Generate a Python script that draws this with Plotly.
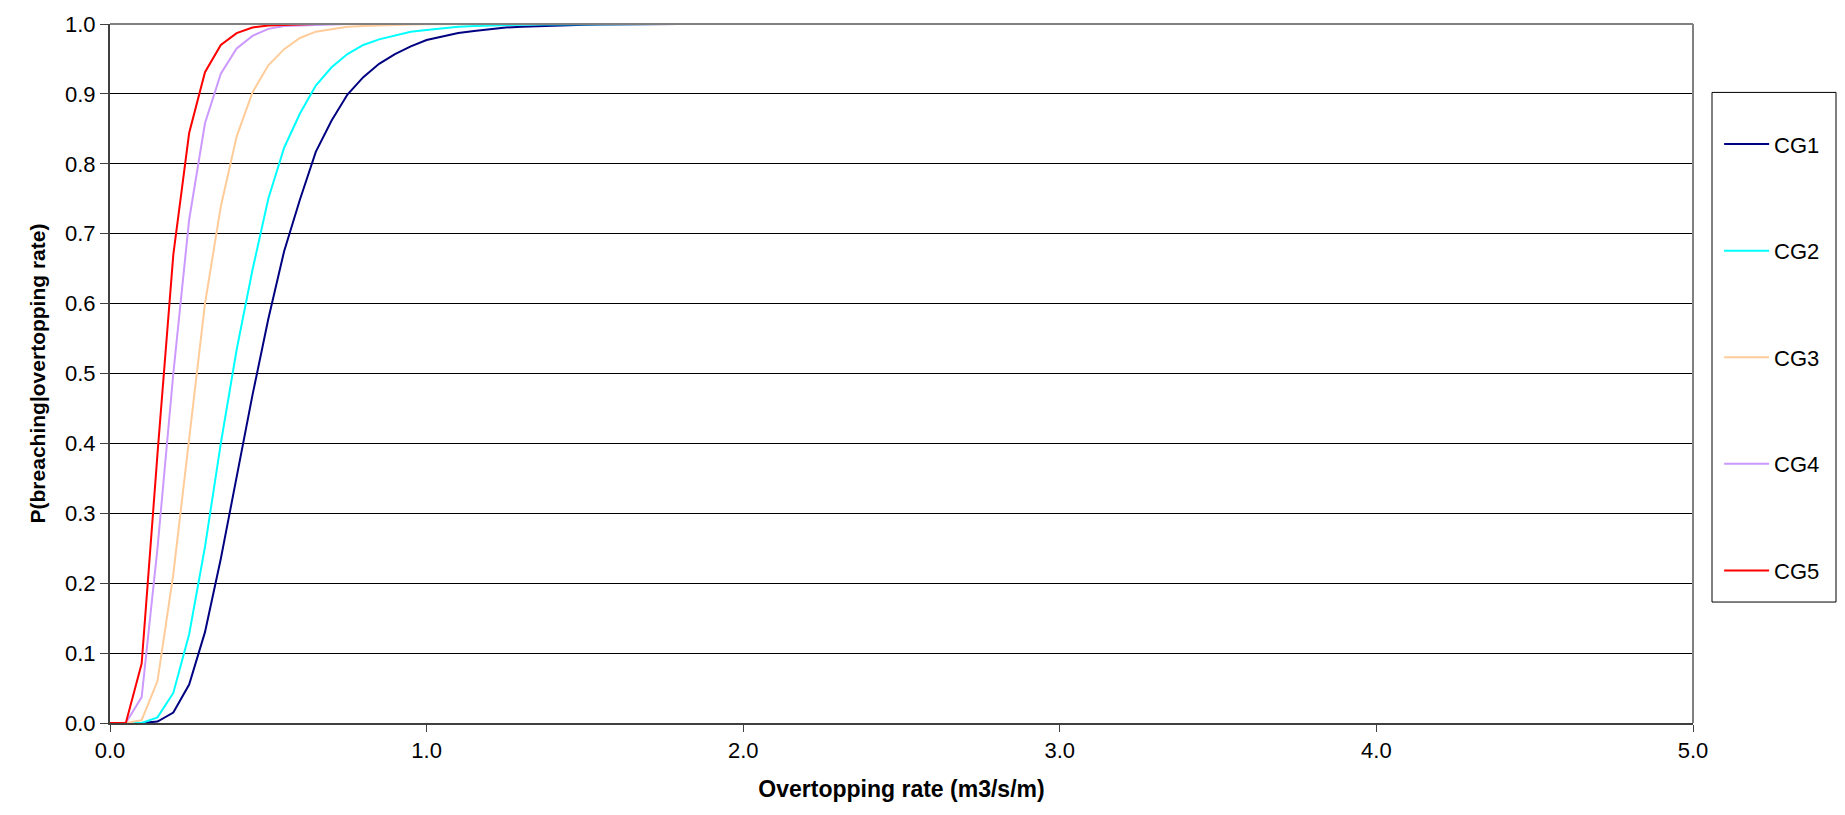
import plotly.graph_objects as go

# Overtopping rate sample points (m3/s/m); curves are flat at 1.0 out to 5.0
OVERTOPPING_RATE = [0.00, 0.05, 0.10, 0.15, 0.20, 0.25, 0.30, 0.35, 0.40, 0.45,
                    0.50, 0.55, 0.60, 0.65, 0.70, 0.75, 0.80, 0.85, 0.90, 0.95,
                    1.00, 1.05, 1.10, 1.15, 1.20, 1.25, 1.30, 1.35, 1.40, 1.45,
                    1.50, 1.55, 1.60, 1.65, 1.70, 1.75, 1.80, 5.00]

# Conditional probability of breaching for each crest group
CG1 = [0.000, 0.000, 0.000, 0.002, 0.015, 0.055, 0.130, 0.235, 0.352, 0.469,
       0.578, 0.675, 0.749, 0.817, 0.862, 0.899, 0.924, 0.943, 0.957, 0.968,
       0.977, 0.982, 0.987, 0.990, 0.993, 0.995, 0.996, 0.997, 0.998, 0.9985,
       0.999, 0.9993, 0.9995, 0.9997, 0.9998, 1.000, 1.000, 1.000]
CG2 = [0.000, 0.000, 0.000, 0.008, 0.043, 0.127, 0.252, 0.400, 0.534, 0.648,
       0.750, 0.823, 0.872, 0.912, 0.938, 0.957, 0.970, 0.978, 0.984, 0.989,
       0.9915, 0.994, 0.996, 0.997, 0.998, 0.9986, 0.999, 0.9994, 0.9996, 0.9998,
       1.000, 1.000, 1.000, 1.000, 1.000, 1.000, 1.000, 1.000]
CG3 = [0.000, 0.000, 0.004, 0.060, 0.213, 0.407, 0.600, 0.739, 0.839, 0.902,
       0.941, 0.964, 0.980, 0.989, 0.993, 0.996, 0.997, 0.998, 0.9987, 0.9992,
       0.9995, 0.9997, 1.000, 1.000, 1.000, 1.000, 1.000, 1.000, 1.000, 1.000,
       1.000, 1.000, 1.000, 1.000, 1.000, 1.000, 1.000, 1.000]
CG4 = [0.000, 0.000, 0.037, 0.250, 0.500, 0.720, 0.858, 0.929, 0.965, 0.983,
       0.993, 0.997, 0.998, 0.999, 0.9995, 1.000, 1.000, 1.000, 1.000, 1.000,
       1.000, 1.000, 1.000, 1.000, 1.000, 1.000, 1.000, 1.000, 1.000, 1.000,
       1.000, 1.000, 1.000, 1.000, 1.000, 1.000, 1.000, 1.000]
CG5 = [0.000, 0.000, 0.085, 0.385, 0.670, 0.844, 0.931, 0.970, 0.987, 0.995,
       0.998, 0.999, 0.9996, 1.000, 1.000, 1.000, 1.000, 1.000, 1.000, 1.000,
       1.000, 1.000, 1.000, 1.000, 1.000, 1.000, 1.000, 1.000, 1.000, 1.000,
       1.000, 1.000, 1.000, 1.000, 1.000, 1.000, 1.000, 1.000]

SERIES_NAMES = ["CG1", "CG2", "CG3", "CG4", "CG5"]
SERIES_VALUES = [CG1, CG2, CG3, CG4, CG5]
SERIES_COLORS = ["#000080", "#00FFFF", "#FFCC99", "#CC99FF", "#FF0000"]

X_TICKS = [0, 1, 2, 3, 4, 5]
Y_TICKS = [0.0, 0.1, 0.2, 0.3, 0.4, 0.5, 0.6, 0.7, 0.8, 0.9, 1.0]

FONT = "Liberation Sans, Arial, sans-serif"

fig = go.Figure()
for name, vals, color in zip(SERIES_NAMES, SERIES_VALUES, SERIES_COLORS):
    fig.add_trace(go.Scatter(
        x=OVERTOPPING_RATE, y=vals, name=name, mode="lines",
        line=dict(color=color, width=2), legendgroup=name,
    ))

W, H = 1845, 815
L, R, T, B = 110, 152, 18, 92

fig.update_layout(
    width=W, height=H, autosize=False,
    margin=dict(l=L, r=R, t=T, b=B),
    paper_bgcolor="white", plot_bgcolor="white",
    font=dict(family=FONT, size=22, color="black"),
    xaxis=dict(
        range=[0, 5], tickvals=X_TICKS, tickformat=".1f",
        showgrid=False, zeroline=False,
        showline=True, linecolor="#404040", linewidth=2,
        ticks="outside", ticklen=7, tickwidth=1, tickcolor="#404040",
        tickfont=dict(size=22),
        title=dict(text="<b>Overtopping rate (m3/s/m)</b>", font=dict(size=23), standoff=18),
    ),
    yaxis=dict(
        range=[0, 1], tickvals=Y_TICKS, tickformat=".1f",
        showgrid=True, gridcolor="#000000", gridwidth=1, zeroline=False,
        showline=True, linecolor="#404040", linewidth=2,
        ticks="outside", ticklen=8, tickwidth=1, tickcolor="#404040",
        tickfont=dict(size=22),
        title=dict(text="<b>P(breaching|overtopping rate)</b>", font=dict(size=21), standoff=14),
    ),
    legend=dict(
        x=1.0165, xanchor="left", y=0.858, yanchor="top",
        bgcolor="rgba(0,0,0,0)", borderwidth=0, itemwidth=45,
        font=dict(size=22), tracegroupgap=75, traceorder="grouped",
    ),
    showlegend=True,
)

# Top and right frame of the plot area
fig.add_shape(type="line", xref="paper", yref="paper", x0=0, x1=1, y0=1, y1=1,
              line=dict(color="#808080", width=2))
fig.add_shape(type="line", xref="paper", yref="paper", x0=1, x1=1, y0=0, y1=1,
              line=dict(color="#808080", width=2))
# Legend frame
fig.add_shape(type="rect", xref="paper", yref="paper",
              x0=(1712 - L) / (W - L - R), x1=(1836 - L) / (W - L - R),
              y0=(H - B - 601) / (H - T - B), y1=(H - B - 87) / (H - T - B),
              line=dict(color="black", width=1), fillcolor="rgba(0,0,0,0)", layer="below")

fig.write_html("out.html")
